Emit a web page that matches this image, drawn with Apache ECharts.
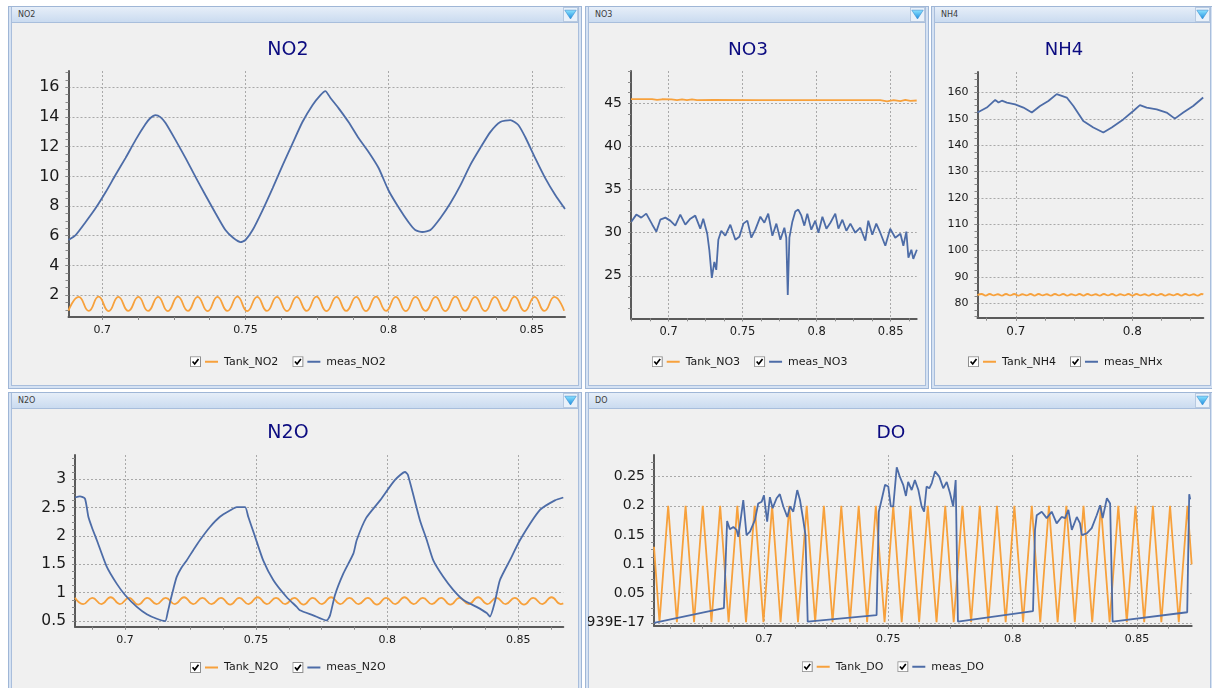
<!DOCTYPE html>
<html>
<head>
<meta charset="utf-8">
<title>Tank dashboard</title>
<script src="https://cdn.jsdelivr.net/npm/echarts@6.0.0/dist/echarts.min.js"></script>
<style>
  html, body { margin:0; padding:0; width:1212px; height:688px; overflow:hidden; background:#ffffff; }
  .panel { position:absolute; box-sizing:border-box; border:1px solid #9fb6d6; background:#d5e2f3; }
  .inner { position:absolute; left:2px; right:2px; top:0; bottom:2px; box-sizing:border-box;
           border-left:1px solid #a9bedc; border-right:1px solid #a9bedc; border-bottom:1px solid #a9bedc; background:#f0f0f0; }
  .hdr { position:absolute; left:0; right:0; top:0; height:16px; box-sizing:border-box; border-bottom:1px solid #a8bedc;
         background:linear-gradient(#e6eef8, #cadbf0); font:8px 'DejaVu Sans', sans-serif; color:#3c3c3c; line-height:15px; padding-left:6px; }
  .ddi { position:absolute; right:0px; top:0px; }
  .chart { position:absolute; }
</style>
</head>
<body>
<script>
// ---------------- data ----------------
const no2XTicks = [0.7, 0.75, 0.8, 0.85];
const no2YTicks = [2, 4, 6, 8, 10, 12, 14, 16];
const no2TankT = [0.6882, 0.6918, 0.6953, 0.6987, 0.7022, 0.7056, 0.7091, 0.7126, 0.7160, 0.7195,
  0.7229, 0.7264, 0.7299, 0.7333, 0.7368, 0.7402, 0.7437, 0.7472, 0.7506, 0.7541,
  0.7575, 0.7610, 0.7645, 0.7679, 0.7714, 0.7748, 0.7783, 0.7818, 0.7852, 0.7887,
  0.7921, 0.7956, 0.7991, 0.8025, 0.8060, 0.8094, 0.8129, 0.8164, 0.8198, 0.8233,
  0.8267, 0.8302, 0.8337, 0.8371, 0.8406, 0.8440, 0.8475, 0.8510, 0.8544, 0.8579, 0.8613];
const no2TankV = [0.95, 1.88, 0.93, 1.89, 0.92, 1.88, 0.93, 1.87, 0.93, 1.88,
  0.92, 1.89, 0.93, 1.88, 0.92, 1.88, 0.93, 1.89, 0.92, 1.88,
  0.93, 1.87, 0.92, 1.88, 0.93, 1.89, 0.92, 1.88, 0.93, 1.88,
  0.92, 1.89, 0.93, 1.88, 0.92, 1.87, 0.93, 1.88, 0.92, 1.89,
  0.93, 1.88, 0.92, 1.88, 0.93, 1.89, 0.92, 1.88, 0.93, 1.87, 0.94];
const no2MeasT = [0.6882, 0.6907, 0.6942, 0.6977, 0.7012, 0.7046, 0.7081, 0.7116, 0.7151, 0.7168,
  0.7186, 0.7203, 0.7221, 0.7256, 0.7291, 0.7326, 0.7360, 0.7395, 0.7430, 0.7458,
  0.7483, 0.7500, 0.7525, 0.7560, 0.7595, 0.7630, 0.7665, 0.7699, 0.7734, 0.7762,
  0.7779, 0.7797, 0.7825, 0.7860, 0.7895, 0.7930, 0.7965, 0.7999, 0.8034, 0.8069,
  0.8093, 0.8118, 0.8146, 0.8181, 0.8216, 0.8251, 0.8285, 0.8320, 0.8355, 0.8390,
  0.8425, 0.8453, 0.8477, 0.8512, 0.8547, 0.8582, 0.8616];
const no2MeasV = [5.71, 6.04, 6.92, 7.86, 8.94, 10.09, 11.23, 12.44, 13.52, 13.93,
  14.13, 13.99, 13.59, 12.44, 11.23, 9.95, 8.74, 7.53, 6.38, 5.84,
  5.57, 5.71, 6.38, 7.73, 9.21, 10.76, 12.24, 13.66, 14.80, 15.48,
  15.75, 15.28, 14.60, 13.66, 12.58, 11.64, 10.56, 9.08, 7.93, 6.92,
  6.38, 6.25, 6.38, 7.19, 8.20, 9.41, 10.76, 11.91, 12.98, 13.66,
  13.79, 13.46, 12.65, 11.23, 9.88, 8.74, 7.80];

const no3XTicks = [0.7, 0.75, 0.8, 0.85];
const no3YTicks = [25, 30, 35, 40, 45];
const no3TankT = [0.6746, 0.6888, 0.6922, 0.6955, 0.7020, 0.7057, 0.7091, 0.7124, 0.7158, 0.7192,
  0.7300, 0.7600, 0.7900, 0.8200, 0.8430, 0.8476, 0.8520, 0.8566, 0.8599, 0.8633, 0.8676];
const no3TankV = [45.50, 45.50, 45.40, 45.48, 45.47, 45.38, 45.48, 45.38, 45.47, 45.39,
  45.40, 45.38, 45.38, 45.38, 45.37, 45.24, 45.38, 45.26, 45.40, 45.30, 45.34];
const no3MeasT = [0.6748, 0.6782, 0.6815, 0.6849, 0.6890, 0.6917, 0.6944, 0.6978, 0.7011, 0.7045,
  0.7079, 0.7113, 0.7147, 0.7180, 0.7214, 0.7234, 0.7261, 0.7275, 0.7292, 0.7309,
  0.7322, 0.7336, 0.7356, 0.7383, 0.7417, 0.7451, 0.7478, 0.7505, 0.7532, 0.7559,
  0.7586, 0.7620, 0.7647, 0.7673, 0.7701, 0.7728, 0.7755, 0.7782, 0.7795, 0.7805,
  0.7816, 0.7836, 0.7856, 0.7876, 0.7897, 0.7917, 0.7937, 0.7964, 0.7991, 0.8012,
  0.8039, 0.8066, 0.8093, 0.8126, 0.8147, 0.8174, 0.8201, 0.8228, 0.8261, 0.8295,
  0.8329, 0.8349, 0.8376, 0.8403, 0.8430, 0.8464, 0.8497, 0.8531, 0.8566, 0.8586,
  0.8606, 0.8620, 0.8640, 0.8653, 0.8677];
const no3MeasV = [31.28, 32.10, 31.75, 32.21, 30.93, 30.12, 31.51, 31.75, 31.40, 30.82,
  32.10, 30.93, 31.63, 31.98, 30.47, 31.63, 29.88, 28.02, 24.76, 26.62,
  25.69, 29.18, 30.23, 29.65, 30.93, 29.18, 29.53, 31.05, 31.40, 29.42,
  30.35, 31.86, 31.16, 32.21, 29.65, 31.05, 29.18, 30.58, 29.42, 22.78,
  29.42, 31.28, 32.45, 32.68, 31.98, 30.82, 32.21, 30.35, 31.40, 30.00,
  31.86, 30.47, 31.16, 32.21, 30.47, 31.51, 30.23, 31.05, 30.00, 30.58,
  29.07, 31.40, 29.77, 31.05, 30.00, 28.49, 30.47, 29.42, 29.88, 28.49,
  30.12, 27.09, 28.02, 26.97, 28.02];

const nh4XTicks = [0.7, 0.8];
const nh4YTicks = [80, 90, 100, 110, 120, 130, 140, 150, 160];
const nh4TankT = [0.6671, 0.6706, 0.6741, 0.6776, 0.6811, 0.6846, 0.6881, 0.6916, 0.6951, 0.6986,
  0.7021, 0.7056, 0.7091, 0.7126, 0.7161, 0.7196, 0.7231, 0.7266, 0.7301, 0.7336,
  0.7371, 0.7406, 0.7441, 0.7476, 0.7511, 0.7546, 0.7581, 0.7616, 0.7651, 0.7686,
  0.7721, 0.7756, 0.7791, 0.7826, 0.7861, 0.7896, 0.7931, 0.7966, 0.8001, 0.8036,
  0.8071, 0.8106, 0.8141, 0.8176, 0.8211, 0.8246, 0.8281, 0.8316, 0.8351, 0.8386,
  0.8421, 0.8456, 0.8491, 0.8526, 0.8561, 0.8596, 0.8609];
const nh4TankV = [83.0, 83.5, 82.9, 83.5, 83.0, 83.4, 82.9, 83.5, 83.0, 83.5,
  82.9, 83.4, 83.0, 83.5, 82.9, 83.5, 83.0, 83.4, 82.9, 83.5,
  83.0, 83.5, 82.9, 83.4, 83.0, 83.5, 82.9, 83.5, 83.0, 83.4,
  82.9, 83.5, 83.0, 83.5, 82.9, 83.4, 83.0, 83.5, 82.9, 83.5,
  83.0, 83.4, 82.9, 83.5, 83.0, 83.5, 82.9, 83.4, 83.0, 83.5,
  82.9, 83.5, 83.0, 83.4, 82.9, 83.5, 83.3];
const nh4MeasT = [0.6671, 0.6751, 0.6823, 0.6851, 0.6880, 0.6923, 0.6994, 0.7065, 0.7137, 0.7208,
  0.7279, 0.7351, 0.7437, 0.7494, 0.7579, 0.7665, 0.7751, 0.7823, 0.7922, 0.8008,
  0.8065, 0.8123, 0.8209, 0.8294, 0.8365, 0.8437, 0.8522, 0.8608];
const nh4MeasV = [152.4, 154.3, 157.2, 156.2, 156.9, 156.2, 155.5, 154.3, 152.4, 154.9,
  156.8, 159.4, 158.1, 154.9, 149.2, 146.7, 144.8, 146.7, 149.8, 153.0,
  155.2, 154.3, 153.6, 152.4, 150.1, 152.4, 154.9, 158.1];

const n2oXTicks = [0.7, 0.75, 0.8, 0.85];
const n2oYTicks = [0.5, 1, 1.5, 2, 2.5, 3];
const n2oTankT = [0.6809, 0.6840, 0.6875, 0.6910, 0.6945, 0.6980, 0.7015, 0.7050, 0.7085, 0.7120,
  0.7155, 0.7190, 0.7225, 0.7260, 0.7295, 0.7330, 0.7366, 0.7401, 0.7436, 0.7471,
  0.7506, 0.7541, 0.7576, 0.7611, 0.7646, 0.7681, 0.7716, 0.7751, 0.7786, 0.7821,
  0.7856, 0.7891, 0.7926, 0.7961, 0.7996, 0.8031, 0.8066, 0.8101, 0.8136, 0.8171,
  0.8206, 0.8241, 0.8276, 0.8311, 0.8347, 0.8382, 0.8417, 0.8452, 0.8487, 0.8522,
  0.8557, 0.8592, 0.8627, 0.8662, 0.8672];
const n2oTankV = [0.91, 0.80, 0.91, 0.80, 0.92, 0.80, 0.91, 0.79, 0.91, 0.80,
  0.91, 0.80, 0.92, 0.80, 0.91, 0.80, 0.91, 0.79, 0.91, 0.80,
  0.92, 0.80, 0.91, 0.80, 0.91, 0.79, 0.91, 0.80, 0.92, 0.80,
  0.91, 0.80, 0.91, 0.79, 0.91, 0.80, 0.92, 0.80, 0.91, 0.80,
  0.91, 0.79, 0.91, 0.80, 0.92, 0.80, 0.91, 0.80, 0.91, 0.79,
  0.91, 0.80, 0.92, 0.80, 0.81];
const n2oMeasT = [0.6809, 0.6828, 0.6847, 0.6860, 0.6873, 0.6892, 0.6930, 0.6968, 0.7000, 0.7045,
  0.7083, 0.7121, 0.7153, 0.7163, 0.7172, 0.7185, 0.7197, 0.7215, 0.7235, 0.7260,
  0.7286, 0.7324, 0.7362, 0.7400, 0.7426, 0.7458, 0.7470, 0.7496, 0.7527, 0.7566,
  0.7617, 0.7655, 0.7667, 0.7718, 0.7769, 0.7782, 0.7801, 0.7833, 0.7871, 0.7884,
  0.7920, 0.7973, 0.8030, 0.8068, 0.8079, 0.8125, 0.8151, 0.8176, 0.8214, 0.8252,
  0.8291, 0.8341, 0.8380, 0.8392, 0.8411, 0.8430, 0.8468, 0.8507, 0.8583, 0.8640, 0.8672];
const n2oMeasV = [2.68, 2.70, 2.66, 2.34, 2.16, 1.93, 1.46, 1.16, 0.96, 0.75,
  0.62, 0.54, 0.50, 0.66, 0.84, 1.08, 1.28, 1.44, 1.57, 1.75,
  1.93, 2.16, 2.34, 2.45, 2.51, 2.51, 2.34, 1.99, 1.57, 1.22,
  0.92, 0.75, 0.69, 0.60, 0.51, 0.60, 0.96, 1.34, 1.69, 1.93,
  2.32, 2.63, 2.99, 3.13, 3.08, 2.28, 1.93, 1.57, 1.28, 1.05,
  0.87, 0.75, 0.64, 0.58, 0.84, 1.22, 1.57, 1.93, 2.46, 2.63, 2.68];

const doXTicks = [0.7, 0.75, 0.8, 0.85];
const doYTicks = [0, 0.05, 0.1, 0.15, 0.2, 0.25];
const doTankT = [0.6558, 0.6580, 0.6615, 0.6650, 0.6685, 0.6719, 0.6754, 0.6789, 0.6824, 0.6858,
  0.6893, 0.6928, 0.6963, 0.6998, 0.7033, 0.7067, 0.7102, 0.7137, 0.7172, 0.7206,
  0.7241, 0.7276, 0.7311, 0.7346, 0.7381, 0.7415, 0.7450, 0.7485, 0.7520, 0.7554,
  0.7589, 0.7624, 0.7659, 0.7694, 0.7729, 0.7763, 0.7798, 0.7833, 0.7868, 0.7902,
  0.7937, 0.7972, 0.8007, 0.8042, 0.8077, 0.8111, 0.8146, 0.8181, 0.8216, 0.8250,
  0.8285, 0.8320, 0.8355, 0.8390, 0.8425, 0.8459, 0.8494, 0.8529, 0.8564, 0.8598,
  0.8633, 0.8668, 0.8703, 0.8720];
const doTankV = [0.130, 0.001, 0.200, 0.001, 0.200, 0.001, 0.200, 0.001, 0.200, 0.001,
  0.200, 0.001, 0.200, 0.001, 0.200, 0.001, 0.200, 0.001, 0.200, 0.001,
  0.200, 0.001, 0.200, 0.001, 0.200, 0.001, 0.200, 0.001, 0.200, 0.001,
  0.200, 0.001, 0.200, 0.001, 0.200, 0.001, 0.200, 0.001, 0.200, 0.001,
  0.200, 0.001, 0.200, 0.001, 0.200, 0.001, 0.200, 0.001, 0.200, 0.001,
  0.200, 0.001, 0.200, 0.001, 0.200, 0.001, 0.200, 0.001, 0.200, 0.001,
  0.200, 0.001, 0.200, 0.100];
const doMeasT = [0.6558, 0.6839, 0.6852, 0.6863, 0.6877, 0.6890, 0.6897, 0.6917, 0.6930, 0.6944,
  0.6964, 0.6977, 0.6991, 0.7000, 0.7013, 0.7024, 0.7035, 0.7051, 0.7064, 0.7078,
  0.7094, 0.7105, 0.7118, 0.7134, 0.7145, 0.7158, 0.7167, 0.7176,
  0.7453, 0.7462, 0.7473, 0.7487, 0.7500, 0.7510, 0.7520, 0.7534, 0.7547, 0.7560,
  0.7571, 0.7580, 0.7594, 0.7607, 0.7621, 0.7634, 0.7644, 0.7654, 0.7665, 0.7675,
  0.7688, 0.7705, 0.7721, 0.7735, 0.7748, 0.7761, 0.7771, 0.7780,
  0.8082, 0.8090, 0.8097, 0.8117, 0.8137, 0.8157, 0.8177, 0.8197, 0.8211, 0.8224,
  0.8238, 0.8258, 0.8271, 0.8278, 0.8298, 0.8318, 0.8338, 0.8352, 0.8362, 0.8379, 0.8392, 0.8402,
  0.8702, 0.8710, 0.8714, 0.8720];
const doMeasV = [0.000, 0.025, 0.174, 0.160, 0.164, 0.159, 0.147, 0.210, 0.150, 0.156,
  0.176, 0.204, 0.207, 0.218, 0.173, 0.215, 0.196, 0.213, 0.220, 0.199,
  0.181, 0.199, 0.190, 0.227, 0.210, 0.176, 0.150, 0.002,
  0.013, 0.190, 0.210, 0.236, 0.233, 0.199, 0.199, 0.266, 0.249, 0.236,
  0.217, 0.241, 0.227, 0.244, 0.227, 0.199, 0.190, 0.233, 0.230, 0.239,
  0.259, 0.250, 0.230, 0.241, 0.222, 0.199, 0.244, 0.002,
  0.020, 0.159, 0.184, 0.190, 0.179, 0.190, 0.170, 0.181, 0.179, 0.193,
  0.159, 0.181, 0.170, 0.150, 0.153, 0.162, 0.184, 0.201, 0.179, 0.213, 0.204, 0.002,
  0.018, 0.220, 0.211, 0.213];

// ---------------- rendering ----------------
const FONT = "'DejaVu Sans', Verdana, sans-serif";
const ORANGE = '#f7a13c';
const BLUE = '#4d6ca7';

function pts(xs, ys) { return xs.map((x, i) => [x, ys[i]]); }
function steps(a, b, s) {
  const out = [];
  const n0 = Math.ceil(a / s - 1e-9), n1 = Math.floor(b / s + 1e-9);
  for (let n = n0; n <= n1; n++) out.push(+(n * s).toFixed(6));
  return out;
}
function fmt(v) { return String(+(+v).toFixed(6)); }
function legendIcon(color) {
  const svg = "<svg xmlns='http://www.w3.org/2000/svg' width='29' height='11' viewBox='0 0 29 11'>" +
    "<rect x='0.5' y='0.5' width='10' height='10' fill='#ffffff' stroke='#8e8e8e'/>" +
    "<path d='M2.6 5.3 L4.7 7.8 L8.5 2.8' fill='none' stroke='#000000' stroke-width='1.7'/>" +
    "<line x1='15' y1='5.5' x2='28' y2='5.5' stroke='" + color + "' stroke-width='2'/></svg>";
  return 'image://data:image/svg+xml;charset=utf-8,' + encodeURIComponent(svg);
}
function ddIcon(id) {
  return '<svg class="ddi" width="15" height="15" viewBox="0 0 15 15"><defs><linearGradient id="' + id +
    '" x1="0" y1="0" x2="0" y2="1"><stop offset="0" stop-color="#8ae2ff"/><stop offset="1" stop-color="#1f8ee0"/></linearGradient></defs>' +
    '<rect x="0.5" y="0.5" width="14" height="14" fill="#e9f1fa" stroke="#b7c9e0"/>' +
    '<path d="M1.8 3.2 L13.2 3.2 L7.5 12 Z" fill="url(#' + id + ')" stroke="#3b8fd0" stroke-width="0.6"/></svg>';
}
function makeAxes(dim, a, margin) {
  const pos = dim === 'x' ? 'bottom' : 'left';
  const major = a.major.filter(v => v >= a.min - 1e-9 && v <= a.max + 1e-9);
  const minor = steps(a.min, a.max, a.step);
  const common = { type: 'value', min: a.min, max: a.max, position: pos };
  return [
    Object.assign({}, common, {
      axisLine: { show: true, onZero: false, lineStyle: { color: '#5a5a5a', width: 2 } },
      axisTick: { show: true, inside: false, length: 3, customValues: major, lineStyle: { color: '#8a8a8a', width: 1 } },
      axisLabel: { show: true, customValues: major, margin: margin, color: '#1a1a1a', fontSize: a.size, fontFamily: FONT, formatter: a.fmt || fmt },
      splitLine: { show: true, lineStyle: { color: '#a9a9a9', width: 1, type: [2, 2] } },
      minorTick: { show: false }, minorSplitLine: { show: false }
    }),
    Object.assign({}, common, {
      axisLine: { show: false, onZero: false },
      axisTick: { show: true, inside: false, length: 3, customValues: minor, lineStyle: { color: '#8a8a8a', width: 1 } },
      axisLabel: { show: false }, splitLine: { show: false }, minorTick: { show: false }
    })
  ];
}

const panels = [
  { name: 'NO2', box: [8, 6, 574, 383], chart: [12, 23, 566, 362], grid: [68.5, 71, 565, 317],
    titlePos: [288, 50], titleSize: 19, legendPos: [190, 361.7],
    x: { min: 0.6882, max: 0.8616, major: no2XTicks, step: 0.0125, size: 11 },
    y: { min: 0.52, max: 17.1, major: no2YTicks, step: 0.5, size: 16 },
    series: [ { name: 'Tank_NO2', xs: no2TankT, ys: no2TankV, color: ORANGE, smooth: true },
              { name: 'meas_NO2', xs: no2MeasT, ys: no2MeasV, color: BLUE, smooth: 0.2 } ] },
  { name: 'NO3', box: [585, 6, 344, 383], chart: [589, 23, 336, 362], grid: [631, 71, 916.7, 318.3],
    titlePos: [748, 50], titleSize: 18.5, legendPos: [651.7, 361.7],
    x: { min: 0.6746, max: 0.8676, major: no3XTicks, step: 0.0125, size: 11.5 },
    y: { min: 20.07, max: 48.76, major: no3YTicks, step: 1.25, size: 14 },
    series: [ { name: 'Tank_NO3', xs: no3TankT, ys: no3TankV, color: ORANGE },
              { name: 'meas_NO3', xs: no3MeasT, ys: no3MeasV, color: BLUE } ] },
  { name: 'NH4', box: [931, 6, 283, 383], chart: [935, 23, 277, 362], grid: [977.5, 72, 1203.3, 317.7],
    titlePos: [1064, 50], titleSize: 18, legendPos: [968, 361.7],
    x: { min: 0.6671, max: 0.8609, major: nh4XTicks, step: 0.025, size: 12 },
    y: { min: 74.5, max: 167.8, major: nh4YTicks, step: 2.5, size: 11 },
    series: [ { name: 'Tank_NH4', xs: nh4TankT, ys: nh4TankV, color: ORANGE, smooth: true },
              { name: 'meas_NHx', xs: nh4MeasT, ys: nh4MeasV, color: BLUE } ] },
  { name: 'N2O', box: [8, 392, 574, 300], chart: [12, 409, 566, 279], grid: [75, 455, 563.3, 626.7],
    titlePos: [288, 433], titleSize: 19, legendPos: [190, 667.5],
    x: { min: 0.6809, max: 0.8672, major: n2oXTicks, step: 0.0125, size: 11 },
    y: { min: 0.40, max: 3.43, major: n2oYTicks, step: 0.125, size: 15.5 },
    series: [ { name: 'Tank_N2O', xs: n2oTankT, ys: n2oTankV, color: ORANGE, smooth: true },
              { name: 'meas_N2O', xs: n2oMeasT, ys: n2oMeasV, color: BLUE, smooth: 0.2 } ] },
  { name: 'DO', box: [585, 392, 629, 300], chart: [588, 409, 624, 279], grid: [654, 455, 1191.7, 625.7],
    titlePos: [891, 433], titleSize: 18.5, legendPos: [801.7, 666.7],
    x: { min: 0.6558, max: 0.8720, major: doXTicks, step: 0.0125, size: 11 },
    y: { min: -0.005, max: 0.287, major: doYTicks, step: 0.0125, size: 14,
         fmt: v => (Math.abs(v) < 1e-9 ? '1.3877787807814939E-17' : fmt(v)) },
    series: [ { name: 'Tank_DO', xs: doTankT, ys: doTankV, color: ORANGE },
              { name: 'meas_DO', xs: doMeasT, ys: doMeasV, color: BLUE } ] }
];

panels.forEach((p, idx) => {
  const d = document.createElement('div');
  d.className = 'panel';
  Object.assign(d.style, { left: p.box[0] + 'px', top: p.box[1] + 'px', width: p.box[2] + 'px', height: p.box[3] + 'px' });
  const inner = document.createElement('div');
  inner.className = 'inner';
  const h = document.createElement('div');
  h.className = 'hdr';
  h.textContent = p.name;
  h.insertAdjacentHTML('beforeend', ddIcon('dd' + idx));
  inner.appendChild(h);
  d.appendChild(inner);
  document.body.appendChild(d);

  const [cl, ct, cw, ch] = p.chart;
  const c = document.createElement('div');
  c.className = 'chart';
  Object.assign(c.style, { left: cl + 'px', top: ct + 'px', width: cw + 'px', height: ch + 'px' });
  document.body.appendChild(c);
  const chart = echarts.init(c, null, { renderer: 'canvas', width: cw, height: ch });
  const [gl, gt, gr, gb] = p.grid;
  chart.setOption({
    animation: false,
    backgroundColor: 'transparent',
    title: { text: p.name, left: p.titlePos[0] - cl, top: p.titlePos[1] - ct, textAlign: 'center', textVerticalAlign: 'middle',
             padding: 0, textStyle: { color: '#0b0b80', fontSize: p.titleSize, fontWeight: 'normal', fontFamily: FONT } },
    grid: { left: gl - cl, top: gt - ct, width: gr - gl, height: gb - gt, containLabel: false, outerBoundsMode: 'none' },
    legend: { left: p.legendPos[0] - cl, top: p.legendPos[1] - ct - 5.5, padding: 0, itemWidth: 29, itemHeight: 11, itemGap: 14,
              textStyle: { fontSize: 11, color: '#1a1a1a', fontFamily: FONT },
              data: p.series.map(s => ({ name: s.name, icon: legendIcon(s.color) })) },
    tooltip: { show: false },
    xAxis: makeAxes('x', p.x, 8),
    yAxis: makeAxes('y', p.y, 9),
    series: p.series.map(s => ({
      type: 'line', name: s.name, data: pts(s.xs, s.ys), xAxisIndex: 0, yAxisIndex: 0,
      showSymbol: false, symbol: 'none', smooth: s.smooth || false, clip: true,
      lineStyle: { color: s.color, width: 1.8 }, itemStyle: { color: s.color }, emphasis: { disabled: true }
    }))
  });
});
</script>
</body>
</html>
